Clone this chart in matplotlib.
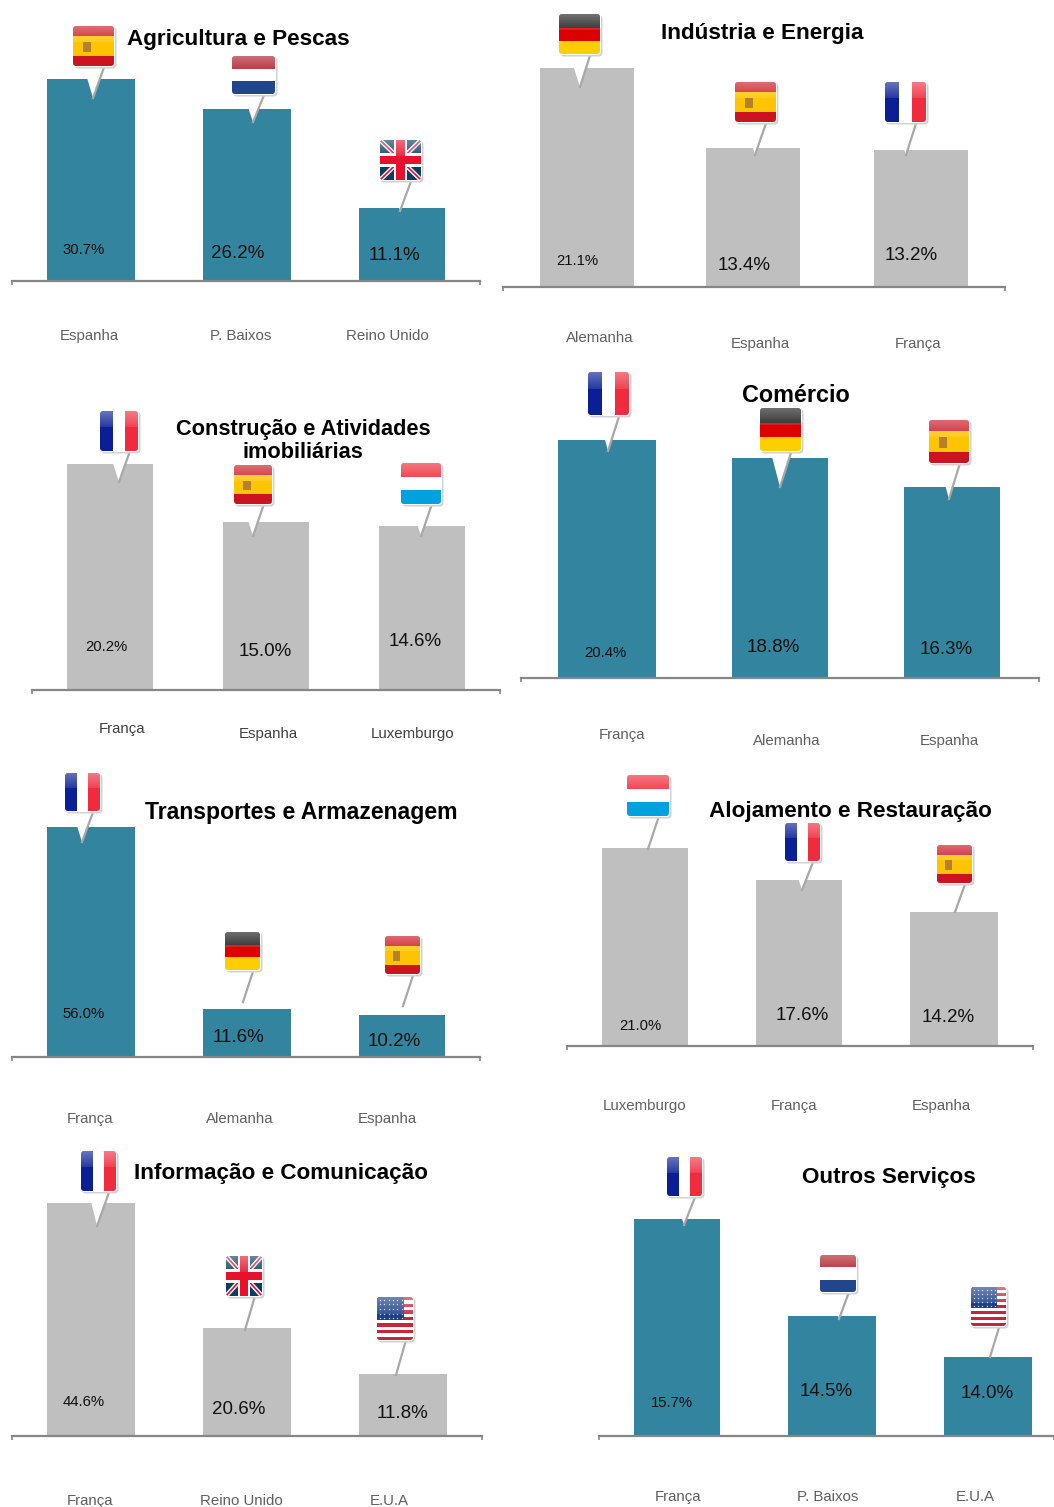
import matplotlib
matplotlib.use('Agg')
import matplotlib.pyplot as plt
import numpy as np
from matplotlib.patches import FancyBboxPatch, Polygon, Rectangle

plt.rcParams['font.family'] = ['Liberation Sans', 'DejaVu Sans']

W, H = 1054, 1507
TEAL = '#33849e'
GREY = '#bfbfbf'

# dados
agri_countries = ['Espanha', 'P. Baixos', 'Reino Unido']
agri_values = [30.7, 26.2, 11.1]
ind_countries = ['Alemanha', 'Espanha', 'França']
ind_values = [21.1, 13.4, 13.2]
con_countries = ['França', 'Espanha', 'Luxemburgo']
con_values = [20.2, 15.0, 14.6]
com_countries = ['França', 'Alemanha', 'Espanha']
com_values = [20.4, 18.8, 16.3]
tra_countries = ['França', 'Alemanha', 'Espanha']
tra_values = [56.0, 11.6, 10.2]
alo_countries = ['Luxemburgo', 'França', 'Espanha']
alo_values = [21.0, 17.6, 14.2]
inf_countries = ['França', 'Reino Unido', 'E.U.A']
inf_values = [44.6, 20.6, 11.8]
out_countries = ['França', 'P. Baixos', 'E.U.A']
out_values = [15.7, 14.5, 14.0]

# layout em píxeis: eixo (x0, x1, base), escala px por %, início do eixo y
panels = [
    dict(title=['Agricultura e Pescas'], title_xy=(238, 39), title_size=16.2, names=agri_countries, values=agri_values, color=TEAL,
         axis=(12, 480, 281), scale=6.58, ymin=0,
         bars=[(47, 135), (203, 291), (359, 445)],
         value_xy=[(84, 250), (238, 253), (394, 256)],
         name_xy=[(89, 336), (241, 336), (387, 336)],
         flags=[('ES', 73, 26, 114, 66, 93, 98), ('NL', 232, 56, 275, 94, 253, 122), ('UK', 380, 140, 421, 180, 400, 211)]),
    dict(title=['Indústria e Energia'], title_xy=(762, 34), title_size=16.2, names=ind_countries, values=ind_values, color=GREY,
         axis=(503, 1005, 287), scale=10.38, ymin=0,
         bars=[(540, 634), (706, 800), (874, 968)],
         value_xy=[(577, 261), (744, 265), (911, 256)],
         name_xy=[(600, 338), (760, 344), (918, 344)],
         flags=[('DE', 559, 14, 600, 54, 580, 87), ('ES', 735, 82, 776, 122, 755, 155), ('FR', 885, 82, 926, 122, 906, 155)]),
    dict(title=['Construção e Atividades', 'imobiliárias'], title_xy=(303, 441), title_size=15.7, names=con_countries, values=con_values, color=GREY,
         axis=(32, 500, 690), scale=11.2, ymin=0, name_color='#404040',
         bars=[(67, 153), (223, 309), (379, 465)],
         value_xy=[(106, 647), (265, 651), (415, 641)],
         name_xy=[(122, 729), (268, 734), (413, 734)],
         flags=[('FR', 100, 411, 138, 451, 119, 482), ('ES', 234, 465, 272, 504, 253, 536), ('LU', 401, 463, 441, 504, 421, 536)]),
    dict(title=['Comércio'], title_xy=(796, 396), title_size=16.8, names=com_countries, values=com_values, color=TEAL,
         axis=(521, 1039, 678), scale=11.69, ymin=0,
         bars=[(558, 656), (732, 828), (904, 1000)],
         value_xy=[(605, 653), (773, 647), (946, 650)],
         name_xy=[(622, 735), (787, 741), (949, 741)],
         flags=[('FR', 588, 372, 629, 415, 608, 451), ('DE', 760, 408, 801, 451, 780, 487), ('ES', 929, 420, 969, 463, 949, 499)]),
    dict(title=['Transportes e Armazenagem'], title_xy=(301, 812), title_size=16.6, names=tra_countries, values=tra_values, color=TEAL,
         axis=(12, 480, 1057), scale=4.1, ymin=0,
         bars=[(47, 135), (203, 291), (359, 445)],
         value_xy=[(84, 1014), (239, 1037), (394, 1041)],
         name_xy=[(90, 1119), (240, 1119), (387, 1119)],
         flags=[('FR', 65, 773, 100, 811, 82, 842), ('DE', 225, 932, 260, 970, 243, 1002), ('ES', 385, 936, 420, 974, 403, 1006)]),
    dict(title=['Alojamento e Restauração'], title_xy=(850, 811), title_size=16.2, names=alo_countries, values=alo_values, color=GREY,
         axis=(567, 1033, 1046), scale=9.42, ymin=0,
         bars=[(602, 688), (756, 842), (910, 998)],
         value_xy=[(640, 1026), (802, 1015), (948, 1018)],
         name_xy=[(645, 1106), (794, 1106), (941, 1106)],
         flags=[('LU', 627, 775, 669, 816, 648, 849), ('FR', 785, 823, 820, 861, 802, 890), ('ES', 937, 845, 972, 883, 955, 912)]),
    dict(title=['Informação e Comunicação'], title_xy=(281, 1173), title_size=16.2, names=inf_countries, values=inf_values, color=GREY,
         axis=(12, 482, 1436), scale=5.22, ymin=0,
         bars=[(47, 135), (203, 291), (359, 447)],
         value_xy=[(84, 1402), (239, 1409), (402, 1414)],
         name_xy=[(90, 1501), (241, 1501), (389, 1501)],
         flags=[('FR', 81, 1151, 116, 1191, 97, 1226), ('UK', 226, 1256, 262, 1296, 245, 1330), ('US', 377, 1297, 413, 1340, 396, 1375)]),
    dict(title=['Outros Serviços'], title_xy=(889, 1178), title_size=16.2, names=out_countries, values=out_values, color=TEAL,
         axis=(599, 1054, 1436), scale=81.0, ymin=13.02,
         bars=[(634, 720), (788, 876), (944, 1032)],
         value_xy=[(672, 1403), (826, 1391), (987, 1393)],
         name_xy=[(678, 1497), (828, 1497), (975, 1497)],
         flags=[('FR', 667, 1157, 702, 1196, 684, 1225), ('NL', 820, 1255, 856, 1292, 839, 1319), ('US', 971, 1287, 1006, 1326, 990, 1357)]),
]

FLAG_BANDS = {
    'ES': [(0.25, '#cb1420'), (0.5, '#ffc400'), (0.25, '#cb1420')],
    'NL': [(0.33, '#ae1c28'), (0.34, '#ffffff'), (0.33, '#21468b')],
    'DE': [(0.34, '#1c1c1c'), (0.33, '#dd0000'), (0.33, '#ffce00')],
    'LU': [(0.33, '#ed2939'), (0.34, '#ffffff'), (0.33, '#00a1de')],
}
gloss = np.ones((32, 1, 4))
gloss[:, 0, 3] = np.linspace(0.38, 0.12, 32)


def clipped(art, clip):
    art.set_clip_path(clip)
    return art


# desenha a bandeira e o pin
def draw_flag(ax, code, x0, y0, x1, y1, tip_x, tip_y):
    w, h = x1 - x0, y1 - y0
    cx = (x0 + x1) / 2
    ax.add_patch(Polygon([(cx - 10, y1), (cx + 11, y1), (tip_x, tip_y)], fc='white', ec='none', zorder=2))
    ax.plot([cx + 11, tip_x], [y1, tip_y], color='#a8a8a8', lw=1.6, zorder=2.1)

    ax.add_patch(FancyBboxPatch((x0 + 1, y0 + 1), w + 1.5, h + 1.5, boxstyle='round,pad=0,rounding_size=4',
                                fc='#d2d2d2', ec='none', zorder=3))
    ax.add_patch(FancyBboxPatch((x0 - 1, y0 - 1), w + 2, h + 2, boxstyle='round,pad=0,rounding_size=4',
                                fc='white', ec='none', zorder=3.1))
    clip = FancyBboxPatch((x0, y0), w, h, boxstyle='round,pad=0,rounding_size=3', fc='white', ec='none', zorder=3.2)
    ax.add_patch(clip)

    z = 3.3
    if code in FLAG_BANDS:
        y = y0
        for frac, color in FLAG_BANDS[code]:
            clipped(ax.add_patch(Rectangle((x0, y), w, frac * h, fc=color, ec='none', zorder=z)), clip)
            y += frac * h
        if code == 'ES':
            ax.add_patch(Rectangle((x0 + 0.24 * w, y0 + 0.4 * h), 0.2 * w, 0.25 * h, fc='#b5802c', ec='none', zorder=z + 0.1))
    elif code == 'FR':
        clipped(ax.add_patch(Rectangle((x0, y0), w / 3, h, fc='#0a1f96', ec='none', zorder=z)), clip)
        clipped(ax.add_patch(Rectangle((x0 + 2 * w / 3, y0), w / 3, h, fc='#ef2b3d', ec='none', zorder=z)), clip)
    elif code == 'UK':
        clipped(ax.add_patch(Rectangle((x0, y0), w, h, fc='#0b3d66', ec='none', zorder=z)), clip)
        for (xa, xb) in [(x0, x1), (x1, x0)]:
            clipped(ax.plot([xa, xb], [y0, y1], color='white', lw=3.2, zorder=z, solid_capstyle='butt')[0], clip)
            clipped(ax.plot([xa, xb], [y0, y1], color='#e8112d', lw=1.2, zorder=z, solid_capstyle='butt')[0], clip)
        clipped(ax.add_patch(Rectangle((cx - 0.17 * w, y0), 0.34 * w, h, fc='white', ec='none', zorder=z)), clip)
        clipped(ax.add_patch(Rectangle((x0, y0 + 0.33 * h), w, 0.34 * h, fc='white', ec='none', zorder=z)), clip)
        clipped(ax.add_patch(Rectangle((cx - 0.1 * w, y0), 0.2 * w, h, fc='#e8112d', ec='none', zorder=z)), clip)
        clipped(ax.add_patch(Rectangle((x0, y0 + 0.4 * h), w, 0.2 * h, fc='#e8112d', ec='none', zorder=z)), clip)
    elif code == 'US':
        for i in range(13):
            color = '#c8243c' if i % 2 == 0 else 'white'
            clipped(ax.add_patch(Rectangle((x0, y0 + i * h / 13), w, h / 13, fc=color, ec='none', zorder=z)), clip)
        clipped(ax.add_patch(Rectangle((x0, y0), 0.74 * w, 0.54 * h, fc='#1c3f86', ec='none', zorder=z + 0.01)), clip)
        for i in range(6):
            for j in range(5):
                ax.plot(x0 + (i + 0.6) * 0.74 * w / 6, y0 + (j + 0.6) * 0.54 * h / 5, 'o', ms=1.0, mec='none',
                        color='#c4cfe6', zorder=z + 0.02)

    # brilho na parte de cima
    im = ax.imshow(gloss, extent=(x0, x1, y0 + 0.4 * h, y0), aspect='auto', zorder=z + 0.2, interpolation='bilinear')
    im.set_clip_path(clip)


fig = plt.figure(figsize=(W / 100, H / 100), dpi=100)

for p in panels:
    x0, x1, base = p['axis']
    ax = fig.add_axes([x0 / W, 1 - base / H, (x1 - x0) / W, base / H])
    centers = [(a + b) / 2 for a, b in p['bars']]
    widths = [b - a for a, b in p['bars']]
    heights = [v - p['ymin'] for v in p['values']]
    ax.bar(centers, heights, width=widths, bottom=p['ymin'], color=p['color'], linewidth=0)
    ax.set_xlim(x0, x1)
    ax.set_ylim(p['ymin'], p['ymin'] + base / p['scale'])
    ax.patch.set_alpha(0)
    ax.set_yticks([])
    ax.set_xticks([x0, x1], ['', ''])
    ax.tick_params(axis='x', direction='out', length=3, width=1.2, color='#868686')
    for side in ['top', 'left', 'right']:
        ax.spines[side].set_visible(False)
    ax.spines['bottom'].set_color('#868686')
    ax.spines['bottom'].set_linewidth(1.6)

# camada de cima em coordenadas de píxel
over = fig.add_axes([0, 0, 1, 1], zorder=10)
over.patch.set_alpha(0)
over.axis('off')

for p in panels:
    for f in p['flags']:
        draw_flag(over, *f)
    for i, (v, xy) in enumerate(zip(p['values'], p['value_xy'])):
        over.text(xy[0], xy[1], f'{v:.1f}%', ha='center', va='center', color='#111111',
                  fontsize=10.7 if i == 0 else 13.5, zorder=6)
    for name, xy in zip(p['names'], p['name_xy']):
        over.text(xy[0], xy[1], name, ha='center', va='center', color=p.get('name_color', '#606060'),
                  fontsize=10.8, zorder=6)
    over.text(p['title_xy'][0], p['title_xy'][1], '\n'.join(p['title']), ha='center', va='center', color='black',
              fontsize=p['title_size'], fontweight='bold', linespacing=1.08, zorder=6)

over.set_xlim(0, W)
over.set_ylim(H, 0)

fig.savefig('out.png', dpi=100)
